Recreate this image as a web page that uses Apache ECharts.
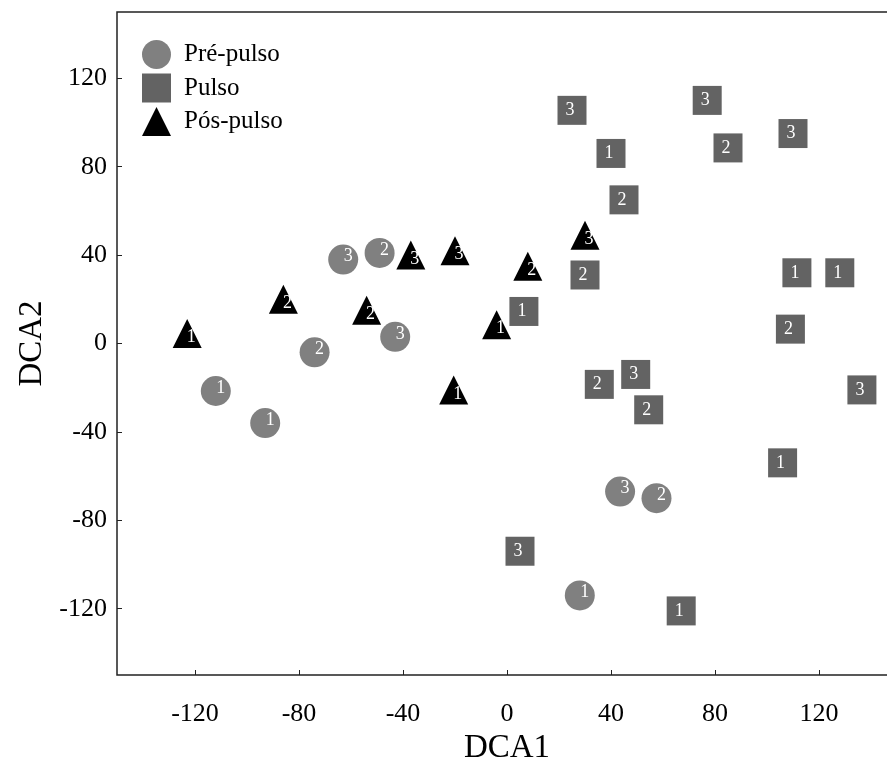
<!DOCTYPE html>
<html>
<head>
<meta charset="utf-8">
<script src="https://cdn.jsdelivr.net/npm/echarts@6/dist/echarts.min.js"></script>
<style>
  html, body { margin: 0; padding: 0; background: #fff; }
  #chart { width: 887px; height: 763px; }
</style>
</head>
<body>
<div id="chart"></div>
<script>
// pontos DCA: [DCA1, DCA2, rótulo]
var prePulso = [
  [-63, 38, "3"], [-49, 41, "2"], [-43, 3, "3"], [-74, -4, "2"],
  [-112, -21.5, "1"], [-93, -36, "1"], [43.5, -67, "3"], [57.5, -70, "2"],
  [28, -114, "1"]
];
var pulso = [
  [25, 105.5, "3"], [40, 86, "1"], [45, 65, "2"], [77, 110, "3"],
  [85, 88.5, "2"], [110, 95, "3"], [30, 31, "2"], [6.5, 14.5, "1"],
  [111.5, 32, "1"], [128, 32, "1"], [109, 6.5, "2"], [35.5, -18.5, "2"],
  [49.5, -14, "3"], [54.5, -30, "2"], [136.5, -21, "3"], [106, -54, "1"],
  [5, -94, "3"], [67, -121, "1"]
];
var posPulso = [
  [-123, 4.5, "1"], [-86, 20, "2"], [-54, 15, "2"], [-37, 40, "3"],
  [-20, 42, "3"], [-20.5, -21, "1"], [-4, 8.5, "1"], [8, 35, "2"],
  [30, 49, "3"]
];
var tickValues = [-120, -80, -40, 0, 40, 80, 120];

var fonte = "'Liberation Serif', 'Times New Roman', serif";

function rotulo(offset) {
  return {
    show: true,
    position: "inside",
    offset: offset,
    color: "#fff",
    fontFamily: fonte,
    fontSize: 18,
    formatter: function (p) { return p.value[2]; }
  };
}

var myChart = echarts.init(document.getElementById("chart"));
var option = {
  backgroundColor: "#fff",
  animation: false,
  grid: {
    left: 117, right: -10, top: 12, bottom: 88,
    outerBoundsMode: "none",
    containLabel: false,
    show: true, borderColor: "#222", borderWidth: 1.5
  },
  legend: {
    orient: "vertical",
    left: 137, top: 35,
    itemWidth: 29, itemHeight: 29, itemGap: 4.5,
    textStyle: { fontFamily: fonte, fontSize: 25, color: "#000", padding: [0, 0, 0, 8] },
    data: ["Pré-pulso", "Pulso", "Pós-pulso"]
  },
  xAxis: {
    type: "value", min: -150, max: 150,
    name: "DCA1", nameLocation: "middle", nameGap: 54,
    nameTextStyle: { fontFamily: fonte, fontSize: 33, color: "#000" },
    axisLine: { show: false, onZero: false },
    axisTick: { show: true, inside: true, length: 5, customValues: tickValues, lineStyle: { color: "#222" } },
    axisLabel: { margin: 26, fontFamily: fonte, fontSize: 26, color: "#000", customValues: tickValues },
    splitLine: { show: false }
  },
  yAxis: {
    type: "value", min: -150, max: 150,
    name: "DCA2", nameLocation: "middle", nameGap: 62, nameRotate: 90,
    nameTextStyle: { fontFamily: fonte, fontSize: 33, color: "#000" },
    axisLine: { show: false, onZero: false },
    axisTick: { show: true, inside: true, length: 5, customValues: tickValues, lineStyle: { color: "#222" } },
    axisLabel: { margin: 10, fontFamily: fonte, fontSize: 26, color: "#000", customValues: tickValues },
    splitLine: { show: false }
  },
  series: [
    {
      name: "Pré-pulso", type: "scatter", symbol: "circle", symbolSize: 30,
      itemStyle: { color: "#808080", opacity: 1 },
      label: rotulo([5, -3]),
      data: prePulso
    },
    {
      name: "Pulso", type: "scatter", symbol: "rect", symbolSize: 29,
      itemStyle: { color: "#636363", opacity: 1 },
      label: rotulo([-2, 0]),
      data: pulso
    },
    {
      name: "Pós-pulso", type: "scatter", symbol: "triangle", symbolSize: 29,
      itemStyle: { color: "#000", opacity: 1 },
      label: rotulo([4, 4]),
      data: posPulso
    }
  ]
};
myChart.setOption(option);
</script>
</body>
</html>
